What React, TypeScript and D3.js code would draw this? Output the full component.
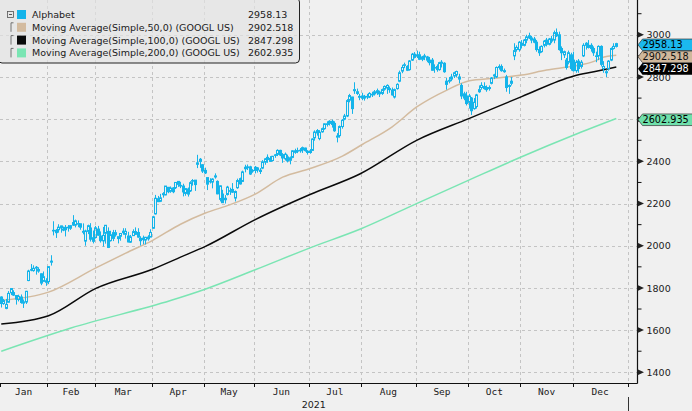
import React from "react";
import * as d3 from "d3";

type Bar = [number, number, number, number]; // open, high, low, close

const monthLabels = ["Jan", "Feb", "Mar", "Apr", "May", "Jun", "Jul", "Aug", "Sep", "Oct", "Nov", "Dec"];
const tradingDays = [19, 19, 23, 21, 20, 22, 21, 22, 21, 21, 21, 22];
const yearLabel = "2021";

const jan: Bar[] = [
  [1757, 1760, 1707, 1726], [1726, 1748, 1720, 1740], [1703, 1748, 1699, 1722], [1732, 1785, 1730, 1774],
  [1777, 1799, 1766, 1797], [1778, 1789, 1762, 1766], [1764, 1765, 1721, 1747], [1745, 1768, 1736, 1760],
  [1757, 1769, 1725, 1731], [1734, 1745, 1705, 1728], [1733, 1786, 1724, 1784], [1835, 1886, 1832, 1880],
  [1887, 1913, 1879, 1885], [1882, 1907, 1877, 1893], [1898, 1904, 1863, 1894], [1887, 1898, 1872, 1880],
  [1867, 1869, 1813, 1823], [1831, 1878, 1831, 1853], [1834, 1846, 1810, 1827],
];
const feb: Bar[] = [
  [1830, 1902, 1818, 1901], [1922, 1955, 1906, 1927], [2073, 2116, 2049, 2070], [2073, 2079, 2037, 2062],
  [2076, 2102, 2062, 2088], [2094, 2095, 2062, 2084], [2077, 2091, 2069, 2075], [2087, 2098, 2044, 2076],
  [2086, 2098, 2067, 2088], [2083, 2098, 2075, 2095], [2098, 2145, 2094, 2110], [2098, 2124, 2087, 2118],
  [2102, 2120, 2088, 2105], [2104, 2105, 2076, 2088], [2068, 2106, 2054, 2064], [2022, 2076, 2000, 2070],
  [2068, 2100, 2055, 2095], [2084, 2107, 2020, 2031], [2038, 2072, 2011, 2021],
];
const mar: Bar[] = [
  [2039, 2094, 2034, 2085], [2079, 2094, 2047, 2050], [2046, 2068, 2015, 2024], [2023, 2089, 1996, 2049],
  [2059, 2098, 2010, 2097], [2068, 2087, 1989, 1992], [2024, 2071, 2020, 2052], [2062, 2075, 2022, 2035],
  [2052, 2075, 2043, 2062], [2034, 2043, 2011, 2043], [2045, 2060, 2024, 2058], [2069, 2083, 2052, 2062],
  [2054, 2083, 2034, 2068], [2046, 2066, 2016, 2018], [2017, 2051, 2013, 2042], [2048, 2078, 2047, 2067],
  [2067, 2087, 2052, 2054], [2063, 2083, 2038, 2041], [2035, 2045, 2001, 2024], [2029, 2048, 2007, 2036],
  [2027, 2042, 2006, 2040], [2033, 2050, 2024, 2041], [2041, 2078, 2040, 2063],
];
const apr: Bar[] = [
  [2083, 2142, 2080, 2137], [2151, 2241, 2148, 2225], [2223, 2236, 2207, 2209], [2211, 2246, 2207, 2227],
  [2242, 2254, 2228, 2247], [2241, 2283, 2239, 2283], [2277, 2278, 2249, 2256], [2258, 2281, 2251, 2273],
  [2274, 2278, 2249, 2256], [2275, 2302, 2269, 2300], [2305, 2306, 2279, 2291], [2286, 2303, 2273, 2283],
  [2283, 2294, 2234, 2255], [2248, 2272, 2237, 2271], [2269, 2276, 2233, 2245], [2260, 2306, 2255, 2299],
  [2306, 2316, 2285, 2309], [2311, 2311, 2260, 2290], [2386, 2431, 2368, 2393], [2410, 2416, 2369, 2400],
  [2384, 2387, 2345, 2354],
];
const may: Bar[] = [
  [2357, 2370, 2340, 2345], [2323, 2323, 2264, 2292], [2306, 2320, 2295, 2305], [2302, 2320, 2272, 2316],
  [2326, 2343, 2318, 2331], [2305, 2310, 2244, 2246], [2220, 2286, 2210, 2284], [2245, 2265, 2203, 2204],
  [2218, 2240, 2200, 2225], [2243, 2284, 2238, 2278], [2261, 2275, 2241, 2261], [2267, 2297, 2250, 2254],
  [2226, 2262, 2210, 2257], [2275, 2318, 2270, 2309], [2318, 2323, 2290, 2293], [2305, 2356, 2302, 2350],
  [2372, 2384, 2348, 2365], [2370, 2385, 2359, 2374], [2374, 2379, 2336, 2340], [2357, 2363, 2346, 2357],
];
const jun: Bar[] = [
  [2372, 2378, 2343, 2357], [2359, 2373, 2347, 2369], [2358, 2368, 2340, 2352], [2368, 2406, 2363, 2398],
  [2396, 2416, 2384, 2412], [2419, 2433, 2393, 2409], [2414, 2425, 2398, 2400], [2404, 2426, 2400, 2424],
  [2429, 2435, 2417, 2431], [2433, 2457, 2425, 2452], [2452, 2455, 2425, 2430], [2432, 2439, 2393, 2416],
  [2412, 2442, 2404, 2434], [2421, 2432, 2395, 2402], [2405, 2423, 2386, 2417], [2419, 2453, 2415, 2450],
  [2450, 2460, 2436, 2443], [2451, 2465, 2439, 2451], [2453, 2463, 2441, 2451], [2454, 2470, 2440, 2465],
  [2463, 2465, 2446, 2451], [2448, 2453, 2432, 2442],
];
const jul: Bar[] = [
  [2442, 2458, 2436, 2448], [2452, 2509, 2450, 2506], [2512, 2547, 2498, 2539], [2546, 2553, 2522, 2535],
  [2508, 2548, 2500, 2538], [2540, 2560, 2536, 2555], [2555, 2580, 2550, 2578], [2578, 2590, 2565, 2575],
  [2580, 2595, 2570, 2590], [2590, 2598, 2560, 2575], [2580, 2590, 2540, 2545], [2515, 2534, 2490, 2520],
  [2522, 2570, 2512, 2565], [2565, 2600, 2555, 2595], [2600, 2625, 2595, 2615], [2615, 2695, 2610, 2688],
  [2690, 2720, 2680, 2712], [2705, 2706, 2625, 2650], [2740, 2775, 2720, 2735], [2730, 2745, 2715, 2722],
  [2708, 2720, 2690, 2704],
];
const aug: Bar[] = [
  [2710, 2725, 2690, 2700], [2700, 2715, 2688, 2708], [2708, 2720, 2695, 2705], [2705, 2728, 2700, 2722],
  [2718, 2730, 2705, 2715], [2720, 2738, 2712, 2730], [2735, 2745, 2715, 2725], [2728, 2735, 2705, 2720],
  [2722, 2745, 2715, 2740], [2742, 2760, 2735, 2755], [2748, 2765, 2720, 2760], [2745, 2755, 2725, 2740],
  [2738, 2750, 2712, 2715], [2705, 2745, 2698, 2740], [2745, 2770, 2740, 2765], [2780, 2830, 2775, 2820],
  [2828, 2858, 2818, 2845], [2858, 2868, 2842, 2855], [2850, 2856, 2828, 2832], [2835, 2880, 2830, 2876],
  [2880, 2914, 2876, 2908], [2908, 2918, 2888, 2893],
];
const sep: Bar[] = [
  [2900, 2925, 2890, 2904], [2905, 2920, 2880, 2884], [2884, 2900, 2875, 2895], [2895, 2910, 2880, 2900],
  [2895, 2900, 2870, 2880], [2880, 2895, 2855, 2868], [2880, 2890, 2830, 2832], [2845, 2860, 2820, 2845],
  [2850, 2860, 2825, 2835], [2835, 2872, 2830, 2868], [2865, 2880, 2845, 2870], [2865, 2870, 2820, 2825],
  [2780, 2795, 2740, 2765], [2780, 2800, 2770, 2784], [2790, 2815, 2780, 2800], [2805, 2825, 2795, 2820],
  [2810, 2830, 2800, 2826], [2790, 2815, 2770, 2800], [2760, 2770, 2695, 2710], [2720, 2730, 2690, 2700],
  [2710, 2730, 2665, 2674],
];
const oct: Bar[] = [
  [2680, 2720, 2650, 2710], [2700, 2705, 2620, 2640], [2650, 2700, 2645, 2680], [2660, 2720, 2650, 2715],
  [2730, 2760, 2725, 2740], [2750, 2775, 2740, 2760], [2755, 2775, 2740, 2745], [2750, 2760, 2730, 2740],
  [2745, 2760, 2735, 2750], [2770, 2800, 2765, 2795], [2805, 2815, 2790, 2810], [2800, 2850, 2795, 2845],
  [2850, 2860, 2835, 2845], [2850, 2860, 2825, 2830], [2825, 2840, 2820, 2830], [2800, 2810, 2730, 2750],
  [2755, 2765, 2720, 2760], [2770, 2800, 2760, 2780], [2900, 2960, 2880, 2925], [2930, 2950, 2920, 2940],
  [2930, 2970, 2920, 2965],
];
const nov: Bar[] = [
  [2960, 2975, 2935, 2950], [2950, 2980, 2945, 2975], [2975, 3000, 2960, 2990], [2995, 3010, 2980, 2985],
  [2985, 2995, 2960, 2975], [2980, 2990, 2960, 2965], [2965, 2975, 2920, 2930], [2930, 2945, 2900, 2915],
  [2920, 2950, 2915, 2945], [2950, 2975, 2940, 2970], [2975, 2985, 2945, 2955], [2955, 2985, 2950, 2980],
  [2980, 2995, 2960, 2970], [2975, 3020, 2960, 3010], [3010, 3030, 2990, 2995], [3000, 3015, 2925, 2930],
  [2935, 2945, 2880, 2915], [2905, 2925, 2890, 2920], [2880, 2890, 2835, 2845], [2870, 2925, 2860, 2915],
  [2905, 2915, 2830, 2840],
];
const dec: Bar[] = [
  [2880, 2920, 2825, 2830], [2830, 2880, 2820, 2870], [2875, 2885, 2820, 2840], [2850, 2880, 2840, 2870],
  [2900, 2960, 2895, 2950], [2950, 2965, 2930, 2960], [2950, 2975, 2935, 2940], [2950, 2960, 2920, 2935],
  [2935, 2945, 2900, 2915], [2900, 2920, 2870, 2900], [2900, 2950, 2880, 2945], [2945, 2950, 2850, 2860],
  [2840, 2875, 2820, 2850], [2820, 2835, 2800, 2825], [2840, 2880, 2830, 2875], [2880, 2940, 2875, 2935],
  [2935, 2960, 2930, 2945], [2945, 2962, 2940, 2958.13],
];

// moving averages: [trading-day index, value]
const ma50: [number, number][] = [
  [0, 1741], [19, 1780], [38, 1895], [50, 1965], [61, 2027], [72, 2102], [82, 2155], [92, 2195],
  [102, 2245], [113, 2325], [124, 2366], [137, 2425], [145, 2480], [157, 2564], [167, 2659],
  [179, 2738], [188, 2782], [198, 2794], [209, 2809], [219, 2833], [230, 2852], [238, 2874],
  [241, 2890], [247, 2902.518],
];
const ma100: [number, number][] = [
  [0, 1629], [19, 1668], [38, 1798], [61, 1890], [72, 1946], [82, 1997], [102, 2124], [124, 2243],
  [144, 2340], [167, 2501], [188, 2604], [209, 2707], [230, 2805], [238, 2825], [247, 2847.298],
];
const ma200: [number, number][] = [
  [0, 1500], [28, 1610], [68, 1740], [81, 1790], [102, 1886], [124, 1990], [144, 2078], [167, 2201],
  [188, 2312], [209, 2422], [230, 2525], [247, 2602.935],
];

const legendNames = [
  "Alphabet",
  "Moving Average(Simple,50,0) (GOOGL US)",
  "Moving Average(Simple,100,0) (GOOGL US)",
  "Moving Average(Simple,200,0) (GOOGL US)",
];
const lastValues = [2958.13, 2902.518, 2847.298, 2602.935];
const lastLabels = ["2958.13", "2902.518", "2847.298", "2602.935"];
const majorTicks = [1400, 1600, 1800, 2000, 2200, 2400, 2600, 2800, 3000];
const minorTicks = [1500, 1700, 1900, 2100, 2300, 2500, 2700, 2900, 3100];

const BG = "#f0f0f0";
const CYAN = "#14b4ea";
const TAN = "#d3bb9f";
const BLACK = "#0a0a0a";
const GREEN = "#7ae5b3";
const seriesColors = [CYAN, TAN, BLACK, GREEN];
const tagFills = ["#1bb8ee", "#cfb79b", "#000000", "#6fe0ab"];
const tagText = ["#000", "#111", "#fff", "#000"];
const SANS = "'DejaVu Sans', sans-serif";
const MONO = "'DejaVu Sans Mono', monospace";

export default function App() {
  const W = 692, H = 411;
  const plotR = 637.5, plotB = 383.5;
  const candles: Bar[] = [...jan, ...feb, ...mar, ...apr, ...may, ...jun, ...jul, ...aug, ...sep, ...oct, ...nov, ...dec];
  const totalDays = d3.sum(tradingDays);
  const x = d3.scaleLinear().domain([0, totalDays]).range([0, 627.5]);
  const y = d3.scaleLinear().domain([1400, 3000]).range([372.3, 34.8]);
  const bounds = [0, ...Array.from(d3.cumsum(tradingDays))];

  const line = d3
    .line<[number, number]>()
    .x((d) => x(d[0] + 0.5))
    .y((d) => y(d[1]))
    .curve(d3.curveMonotoneX);

  // tag positions with collision avoidance
  const tagY: number[] = [];
  lastValues.forEach((v, i) => {
    let cy = y(v) + 1.2;
    if (i > 0) cy = Math.max(cy, tagY[i - 1] + 12);
    tagY.push(cy);
  });
  // axis labels fully hidden behind a price tag are not drawn
  const visibleTicks = majorTicks.filter((t) => !tagY.some((ty) => Math.abs(ty - y(t)) < 3));

  const legendRows = [14.5, 27.3, 40.1, 52.9];

  return (
    <svg width={W} height={H} style={{ position: "absolute", left: 0, top: 0, display: "block" }}>
      <rect x={0} y={0} width={W} height={H} fill={BG} />
      {/* gridlines */}
      <g stroke="#c4c4c4" strokeWidth={1} strokeDasharray="3,3">
        {majorTicks.map((t) => (
          <line key={"h" + t} x1={0} x2={plotR} y1={Math.round(y(t)) + 0.5} y2={Math.round(y(t)) + 0.5} />
        ))}
        {bounds.slice(1).map((b) => (
          <line key={"v" + b} x1={Math.round(x(b)) + 0.5} x2={Math.round(x(b)) + 0.5} y1={0} y2={plotB} />
        ))}
      </g>
      {/* moving averages */}
      <path d={line(ma200) || ""} fill="none" stroke={GREEN} strokeWidth={1.5} />
      <path d={line(ma100) || ""} fill="none" stroke={BLACK} strokeWidth={1.5} />
      <path d={line(ma50) || ""} fill="none" stroke={TAN} strokeWidth={1.5} />
      {/* candles */}
      <g stroke={CYAN} strokeWidth={1}>
        {candles.map(([o, h, l, c], i) => {
          const cx = Math.floor(x(i + 0.5)) + 0.5;
          const top = y(Math.max(o, c));
          const bot = y(Math.min(o, c));
          const up = c >= o;
          return (
            <g key={i}>
              <line x1={cx} x2={cx} y1={y(h)} y2={top} />
              <line x1={cx} x2={cx} y1={bot} y2={y(l)} />
              <rect
                x={cx - 1}
                y={top}
                width={2}
                height={Math.max(bot - top, 0.6)}
                fill={up ? "none" : CYAN}
              />
            </g>
          );
        })}
      </g>
      {/* axes */}
      <line x1={plotR} x2={plotR} y1={0} y2={plotB} stroke="#111" strokeWidth={1.2} />
      <line x1={0} x2={plotR} y1={plotB} y2={plotB} stroke="#111" strokeWidth={1.2} />
      {minorTicks.map((t) => (
        <line key={"m" + t} x1={plotR} x2={plotR + 4} y1={y(t)} y2={y(t)} stroke="#111" strokeWidth={1} />
      ))}
      {majorTicks.map((t) => (
        <path key={"tri" + t} d={`M${plotR},${y(t) - 3}L${plotR + 6.5},${y(t)}L${plotR},${y(t) + 3}Z`} fill="#222" />
      ))}
      {visibleTicks.map((t) => (
        <text key={"t" + t} x={plotR + 9} y={y(t) + 3.6} fontSize={9.5} fontFamily={SANS} fill="#1a1a1a">
          {t}
        </text>
      ))}
      {bounds.map((b) => (
        <line key={"bt" + b} x1={Math.round(x(b)) + 0.5} x2={Math.round(x(b)) + 0.5} y1={plotB} y2={plotB + 3.5} stroke="#111" />
      ))}
      {monthLabels.map((m, i) => (
        <text
          key={m}
          x={(x(bounds[i]) + x(bounds[i + 1])) / 2}
          y={395}
          fontSize={9.5}
          fontFamily={MONO}
          textAnchor="middle"
          fill="#1a1a1a"
        >
          {m}
        </text>
      ))}
      <text x={x(totalDays / 2)} y={407.5} fontSize={9.5} fontFamily={SANS} textAnchor="middle" fill="#1a1a1a">
        {yearLabel}
      </text>
      <line x1={Math.round(x(totalDays)) + 0.5} x2={Math.round(x(totalDays)) + 0.5} y1={397} y2={H} stroke="#333" />
      {/* price tags */}
      {lastLabels.map((lab, i) => {
        const cy = tagY[i];
        return (
          <g key={"tag" + i}>
            <path
              d={`M${plotR + 0.5},${cy}L${plotR + 5},${cy - 5.8}L${W + 2},${cy - 5.8}L${W + 2},${cy + 5.8}L${plotR + 5},${cy + 5.8}Z`}
              fill={tagFills[i]}
              stroke={i === 2 ? "none" : "#333"}
              strokeWidth={0.7}
            />
            <text x={plotR + 5} y={cy + 3.6} fontSize={9.7} fontFamily={SANS} fill={tagText[i]}>
              {lab}
            </text>
          </g>
        );
      })}
      {/* legend */}
      <g>
        <rect x={-2} y={-2} width={301.5} height={65} rx={4} fill="#e3e3e3" fillOpacity={0.7} stroke="#222" strokeWidth={1} />
        <rect x={7.5} y={11.5} width={6} height={6} fill="none" stroke="#555" strokeWidth={0.8} />
        <line x1={9} x2={12} y1={14.5} y2={14.5} stroke="#333" strokeWidth={0.8} />
        {legendRows.slice(1).map((ry, i) => (
          <g key={"tr" + i} stroke="#555" strokeWidth={0.8}>
            <line x1={11} x2={11} y1={ry - 4.5} y2={ry + 4.5} />
            <line x1={11} x2={13.5} y1={ry - 4.5} y2={ry - 4.5} />
          </g>
        ))}
        {legendNames.map((n, i) => (
          <g key={"lg" + i}>
            <rect x={17} y={legendRows[i] - 4.5} width={9} height={9} fill={seriesColors[i]} />
            <text x={32} y={legendRows[i] + 3.5} fontSize={9.5} fontFamily={SANS} fill="#1a1a1a">
              {n}
            </text>
            <text x={248} y={legendRows[i] + 3.5} fontSize={9.5} fontFamily={SANS} fill="#1a1a1a">
              {lastLabels[i]}
            </text>
          </g>
        ))}
      </g>
    </svg>
  );
}
